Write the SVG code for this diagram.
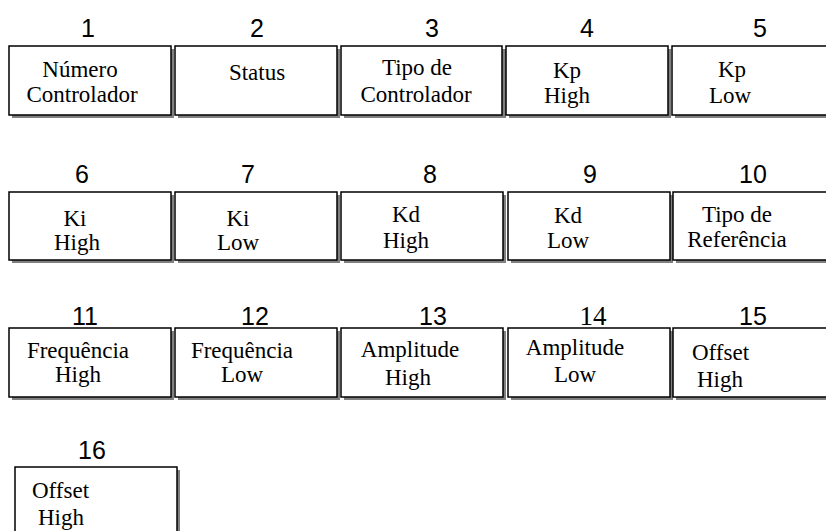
<svg xmlns="http://www.w3.org/2000/svg" width="826" height="531" viewBox="0 0 826 531">
<style>
.sh{fill:#808080}
.bx{fill:#fff;stroke:#000;stroke-width:1.5}
.t{font-size:23px;fill:#000;text-anchor:middle}
.ts{font-size:23px;fill:#000}
.n{font-family:"Liberation Sans",Arial,sans-serif;font-size:25px;fill:#000;text-anchor:middle}
.n2{font-size:27px;fill:#000;text-anchor:middle}
</style>
<rect width="826" height="531" fill="#fff"/>
<g font-family="Liberation Serif, Times New Roman, serif">
<g id="node1"><rect class="sh" x="12" y="49" width="162" height="69"/><rect class="bx" x="9" y="46" width="162" height="69"/><text class="n" x="88" y="37">1</text><text class="t" x="80" y="77">Número</text><text class="t" x="82" y="102">Controlador</text></g>
<g id="node2"><rect class="sh" x="178" y="49" width="162" height="69"/><rect class="bx" x="175" y="46" width="162" height="69"/><text class="n" x="257" y="37">2</text><text class="t" x="257" y="80">Status</text></g>
<g id="node3"><rect class="sh" x="344" y="49" width="162" height="69"/><rect class="bx" x="341" y="46" width="161" height="69"/><text class="n" x="432" y="37">3</text><text class="t" x="417" y="75">Tipo de</text><text class="t" x="416" y="102">Controlador</text></g>
<g id="node4"><rect class="sh" x="509" y="49" width="162" height="69"/><rect class="bx" x="506" y="46" width="162" height="69"/><text class="n" x="587" y="37">4</text><text class="t" x="567" y="78">Kp</text><text class="t" x="567" y="103">High</text></g>
<g id="node5"><rect class="sh" x="675" y="49" width="162" height="69"/><rect class="bx" x="672" y="46" width="162" height="69"/><text class="n" x="760" y="37">5</text><text class="t" x="732" y="77">Kp</text><text class="t" x="730" y="103">Low</text></g>

<g id="node6"><rect class="sh" x="12" y="195" width="162" height="68"/><rect class="bx" x="9" y="192" width="162" height="68"/><text class="n" x="82" y="183">6</text><text class="t" x="75" y="226">Ki</text><text class="t" x="77" y="250">High</text></g>
<g id="node7"><rect class="sh" x="178" y="195" width="162" height="68"/><rect class="bx" x="175" y="192" width="162" height="68"/><text class="n" x="248" y="183">7</text><text class="t" x="238" y="226">Ki</text><text class="t" x="238" y="250">Low</text></g>
<g id="node8"><rect class="sh" x="344" y="195" width="162" height="68"/><rect class="bx" x="341" y="192" width="162" height="68"/><text class="n" x="430" y="183">8</text><text class="t" x="406" y="222">Kd</text><text class="t" x="406" y="248">High</text></g>
<g id="node9"><rect class="sh" x="511" y="195" width="162" height="68"/><rect class="bx" x="508" y="192" width="162" height="68"/><text class="n" x="590" y="183">9</text><text class="t" x="568" y="223">Kd</text><text class="t" x="568" y="248">Low</text></g>
<g id="node10"><rect class="sh" x="676" y="195" width="162" height="68"/><rect class="bx" x="673" y="192" width="162" height="68"/><text class="n" x="753" y="183">10</text><text class="t" x="737" y="222">Tipo de</text><text class="t" x="737" y="247">Referência</text></g>

<g id="node11"><rect class="sh" x="12" y="331" width="162" height="69"/><rect class="bx" x="9" y="328" width="162" height="69"/><text class="n" x="85" y="325">11</text><text class="t" x="78" y="358">Frequência</text><text class="t" x="78" y="382">High</text></g>
<g id="node12"><rect class="sh" x="178" y="331" width="162" height="69"/><rect class="bx" x="175" y="328" width="162" height="69"/><text class="n" x="255" y="325">12</text><text class="t" x="242" y="358">Frequência</text><text class="t" x="242" y="382">Low</text></g>
<g id="node13"><rect class="sh" x="344" y="331" width="162" height="69"/><rect class="bx" x="341" y="328" width="162" height="69"/><text class="n" x="433" y="325">13</text><text class="t" x="410" y="357">Amplitude</text><text class="t" x="408" y="385">High</text></g>
<g id="node14"><rect class="sh" x="511" y="331" width="162" height="69"/><rect class="bx" x="508" y="328" width="162" height="69"/><text class="n2" x="593" y="325">14</text><text class="t" x="575" y="355">Amplitude</text><text class="t" x="575" y="382">Low</text></g>
<g id="node15"><rect class="sh" x="676" y="331" width="162" height="69"/><rect class="bx" x="673" y="328" width="162" height="69"/><text class="n" x="753" y="325">15</text><text class="ts" x="692" y="360">Offset</text><text class="ts" x="697" y="387">High</text></g>

<g id="node16"><rect class="sh" x="18" y="470" width="162" height="75"/><rect class="bx" x="15" y="467" width="162" height="75"/><text class="n" x="92" y="459">16</text><text class="ts" x="32" y="498">Offset</text><text class="ts" x="38" y="525">High</text></g>
</g>
<g id="connectors"></g>
</svg>
